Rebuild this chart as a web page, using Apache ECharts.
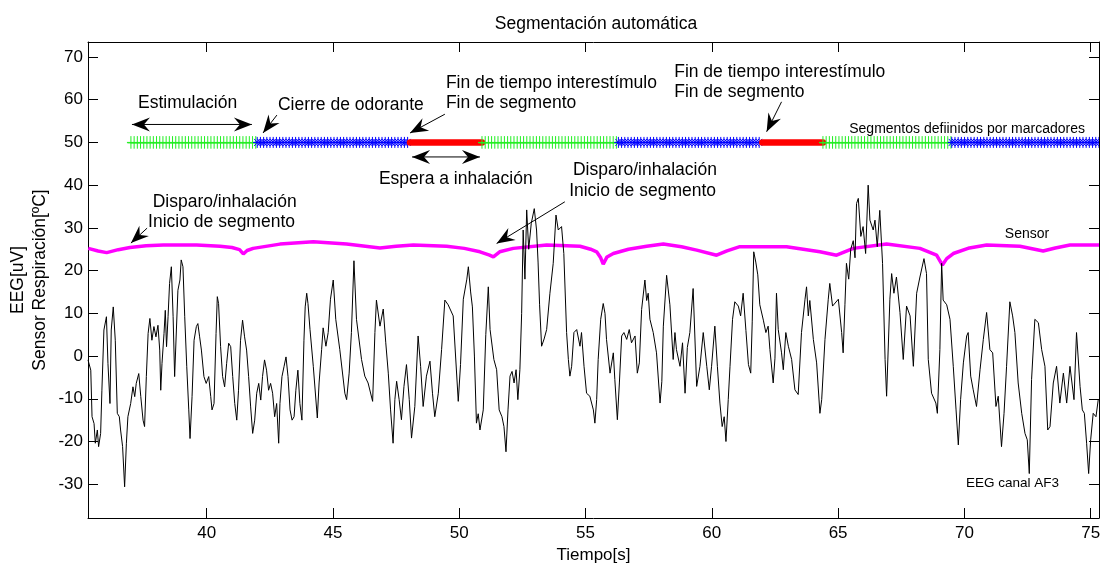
<!DOCTYPE html>
<html><head><meta charset="utf-8">
<script src="https://cdn.jsdelivr.net/npm/echarts@6/dist/echarts.min.js"></script>
<style>html,body{margin:0;padding:0;background:#fff}#c{width:1101px;height:564px}</style>
</head><body><div id="c"></div>
<script>
// ---------- data ----------
const xTicks = [40, 45, 50, 55, 60, 65, 70, 75];
const yTicks = [-30, -20, -10, 0, 10, 20, 30, 40, 50, 60, 70];

const eegT = [35.30,35.41,35.46,35.54,35.59,35.67,35.72,35.80,35.85,35.93,36.03,36.09,36.17,36.22,36.30,36.38,36.46,36.54,36.59,36.67,36.75,36.82,36.88,36.99,37.08,37.15,37.21,37.31,37.39,37.48,37.54,37.61,37.68,37.75,37.83,37.91,37.99,38.07,38.14,38.18,38.23,38.31,38.36,38.41,38.47,38.53,38.60,38.67,38.73,38.80,38.86,38.94,38.99,39.06,39.13,39.21,39.29,39.34,39.42,39.50,39.59,39.65,39.72,39.79,39.89,39.98,40.08,40.16,40.21,40.29,40.37,40.42,40.47,40.55,40.63,40.71,40.79,40.87,40.95,41.03,41.11,41.19,41.26,41.34,41.42,41.50,41.58,41.66,41.74,41.82,41.90,41.98,42.06,42.14,42.21,42.29,42.37,42.45,42.53,42.61,42.69,42.77,42.85,42.90,42.98,43.06,43.14,43.22,43.30,43.38,43.46,43.53,43.61,43.69,43.77,43.85,43.90,43.96,44.01,
 44.09,44.22,44.38,44.45,44.55,44.61,44.72,44.81,44.90,45.01,45.11,45.27,45.47,45.54,45.64,45.73,45.83,45.93,46.13,46.26,46.39,46.57,46.66,46.72,46.86,46.99,47.09,47.19,47.28,47.38,47.45,47.52,47.62,47.71,47.81,47.91,48.02,48.11,48.24,48.37,48.47,48.57,48.70,48.84,48.94,49.03,49.17,49.30,49.43,49.56,49.76,49.96,50.05,50.16,50.30,50.36,50.45,50.52,50.60,50.68,50.75,50.82,50.95,51.05,51.15,51.22,51.37,51.48,51.58,51.69,51.77,51.85,51.93,52.01,52.09,52.17,52.25,52.32,52.40,52.47,52.53,52.60,52.67,52.75,52.85,52.97,53.06,53.12,53.18,53.26,53.36,53.46,53.59,53.72,53.83,53.92,54.05,54.14,54.25,54.32,54.38,54.45,54.54,54.65,54.78,54.84,54.94,55.04,55.17,55.31,55.37,55.44,55.50,55.60,55.70,55.77,55.83,55.97,56.10,56.16,56.26,56.34,56.43,56.52,56.63,56.73,56.82,56.96,57.05,57.13,57.22,57.35,57.42,57.48,57.55,57.68,57.81,57.95,58.02,58.08,58.21,58.34,58.47,58.54,58.60,58.74,58.84,58.94,59.03,59.13,59.26,59.40,59.53,59.66,59.80,59.90,59.99,60.12,60.22,60.32,60.41,60.49,60.56,60.65,60.72,60.82,60.91,61.05,61.14,61.24,61.35,61.45,61.54,61.60,61.66,61.74,61.82,61.90,62.04,62.14,62.23,62.30,62.43,62.50,62.56,62.63,62.76,62.83,62.93,63.03,63.16,63.29,63.42,63.55,63.69,63.75,63.82,63.88,64.02,64.15,64.28,64.35,64.48,64.61,64.67,64.78,65.01,65.14,65.20,65.27,65.33,65.42,65.50,65.60,65.67,65.73,65.80,65.90,65.99,66.09,66.19,66.26,66.39,66.46,66.55,66.65,66.76,66.86,66.92,67.05,67.12,67.21,67.31,67.45,67.58,67.71,67.78,67.85,67.98,68.11,68.24,68.40,68.50,68.57,68.70,68.87,68.93,69.03,69.10,69.16,69.30,69.43,69.56,69.67,69.76,69.85,69.96,70.09,70.15,70.25,70.35,70.48,70.62,70.75,70.88,71.01,71.12,71.25,71.34,71.47,71.57,71.67,71.80,71.91,72.00,72.13,72.27,72.40,72.49,72.57,72.66,72.79,72.93,73.06,73.19,73.30,73.39,73.52,73.65,73.78,73.92,74.05,74.18,74.34,74.44,74.58,74.67,74.75,74.84,74.92,75.00,75.10,75.21,75.30];
const eegV = [-0.9,-3.3,-14.2,-15.8,-20.4,-17.3,-21.2,-18.1,-8,6.1,9.2,-1.7,-11.1,6.1,11.5,3.7,-13.4,-14.2,-17.3,-21.2,-30.6,-20.4,-14.2,-11.1,-7.2,-9.5,-6.4,-4.1,-9.5,-15,-16.5,-4.8,5.3,8.8,3.7,6.9,4.5,7.2,1.4,-8,-1.7,5.3,10.7,2.2,9.2,17,20.9,9.2,-4.8,6.1,15.4,17.8,22.5,20.9,9.2,-2.5,-12.6,-19.3,-9.5,3.7,6.9,7.6,4.5,1.4,-4.8,-6.4,-4.8,-9.5,-12.6,-11.1,5.3,13.9,12.3,2.2,-4.8,-7.2,-1.7,3,2.2,-4.8,-11.1,-15,-8,3.7,8.4,4.5,1.4,-4.8,-11.9,-18.1,-15,-8.7,-6.4,-10.3,-4.8,-0.9,-3.3,-8,-6.4,-8.7,-14.2,-11.1,-20.4,-11.1,-4.8,-2.5,-0.2,-4.8,-12.6,-15,-14.2,-8,-3.3,-11.1,-15,3.7,11.5,14.7,12.3,
 6.2,-2.4,-14.5,-6.3,1.5,6.6,2.3,5.5,13.3,17.8,8.6,1.5,-8.7,-10.2,-4,5.5,22.3,8.6,-0.8,-4.7,-6.3,-10.6,5.5,13.1,7.0,11,3.1,-4,-12.6,-20.4,-10.2,-5.9,-10.2,-14.9,-7.1,-2,-10.2,-19.2,-11.8,4.7,-2.4,-11.8,-4.7,-1.2,-8.7,-14.2,-8.7,1.5,13.1,12,9.4,-10.6,-2,13.3,18,20.9,15,11.5,0,-15.7,-13.5,-17.3,-12.6,5,16.2,6.2,-0.8,-3.2,-12.6,-14.2,-16.5,-22.4,-12.6,-4.7,-3.6,-6.3,-3.2,-10.2,-3.2,10,29.5,18,34.2,25,31,34.5,29.5,22,12,2.3,4,6.2,14.7,21.7,33.0,29.5,30.3,24,5.5,-0.8,-4.7,-2.4,5.5,6.2,2.3,5.5,-2.4,-8.7,-9.4,-12.6,-15.7,-10.2,-0.8,8.6,12.3,10,3.9,-4,0.75,-5.5,-14.9,-6.3,4.7,5.5,3.9,6.2,3.1,4.7,-4,-1.6,10.9,17.8,13,14.7,8.6,5.5,0.75,-11,-6,7,18.9,12,-0.8,5.5,1.5,-2.4,3.1,-8.7,2,5.5,15.8,-7.1,-2.4,5.5,-2.4,-7.9,-2.4,7,-2.4,-11,-16.5,-14.2,-20,-10.2,-2.4,8.6,12.7,11.7,9.4,14.7,6,-2,-4,8,24.4,22,19,12,8.4,5.5,7,1.5,-6.3,-0.5,14.7,6.2,0.75,-3.2,5.5,2.3,-0.8,-7.9,-9,5.5,13.3,16.2,9.4,13,3.9,-1.6,-13.4,-10.2,3.9,13.3,17,11.7,13.3,5.5,0.75,12,21.7,18,25,27,23,35.7,36.9,28,30.3,24,40,31.8,29.5,31.8,25.6,34.1,21.7,-0.8,-9.4,13.3,19.3,14.7,18.5,10.2,-0.8,11.7,11.5,9.4,-2.4,14.7,18.5,22.8,19.3,-0.8,-8.7,-11,-13.4,1.5,21.7,13.1,12,8.6,-2.4,-12.6,-20.8,-10.2,-1.6,4.7,5.5,-4.7,-7.9,-11.8,-3.2,3.9,10.2,1.5,0.75,-11.8,-9.4,-21.2,-13.4,-2.4,12.7,9.4,5.5,-6.3,-13.4,-18.1,-19.6,-27.5,-5.5,8.6,7.8,1.5,-2.4,-17.3,-16.5,-6.3,-2.4,-11,-4,-11,-2.4,-10.2,5.5,-7.1,-12.6,-13.4,-20.4,-27.5,-19.6,-13.4,-14.2,-10.2];

const sensorT = [35.31,35.7,36.04,36.5,36.96,37.6,38.28,39.60,40.53,41.0,41.3,41.45,41.6,41.84,42.90,44.22,45.54,46.86,47.5,48.18,49.50,50.2,50.82,51.2,51.35,51.6,52.14,53.46,54.78,55.2,55.44,55.60,55.70,55.85,56.10,56.7,57.42,58.08,58.8,59.40,60.19,60.6,61.11,62.96,64.28,64.94,65.60,66.92,68.24,68.90,69.13,69.3,69.56,70.2,70.88,72.20,73.12,73.6,74.18,75.33];
const sensorV = [25.2,24.6,24.2,24.9,25.4,25.8,26.0,26.0,25.7,25.4,24.9,23.9,24.7,25.2,26.2,26.75,26.2,25.3,25.7,26.0,25.7,25.2,24.4,23.6,23.2,24.4,25.2,26.0,25.7,25.0,24.4,23.0,21.5,23.2,24.0,25.0,25.7,26.2,25.6,24.8,23.6,24.6,25.6,25.6,24.4,23.6,25.2,26.2,25.2,23.6,21.3,22.8,24.0,25.3,26.0,25.7,24.6,25.3,26.0,26.0];

// marker channel segments (level 50): 0 = estimulación (green +), 1 = interestímulo (blue *), 2 = espera a inhalación (red)
const markerLevel = 50;
const segStart = [37.0, 42.0, 48.05, 50.9, 56.3, 62.0, 64.4, 69.5];
const segEnd   = [42.0, 48.05, 50.9, 56.3, 62.0, 64.4, 69.5, 75.4];
const segKind  = [0, 1, 2, 0, 1, 2, 0, 1];

// arrows (data coords): from -> to, both = double headed
const arrowX1 = [37.04, 42.78, 49.43, 48.13, 62.76, 37.64, 54.18];
const arrowY1 = [54.2, 56.4, 56.6, 46.6, 59.5, 29.94, 36.1];
const arrowX2 = [41.79, 42.23, 48.05, 50.82, 62.17, 37.0, 51.48];
const arrowY2 = [54.2, 52.2, 52.2, 46.6, 52.5, 26.43, 26.35];
const arrowBoth = [1, 0, 0, 1, 0, 0, 0];

// annotation texts (left / middle anchored)
const annotText = ['Estimulación','Cierre de odorante','Fin de tiempo interestímulo','Fin de segmento','Espera a inhalación','Disparo/inhalación','Inicio de segmento','Fin de tiempo interestímulo','Fin de segmento','Disparo/inhalación','Inicio de segmento','Segmentos defiinidos por marcadores','Sensor','EEG canal AF3'];
const annotX = [37.28,42.82,49.47,49.47,46.82,54.50,54.35,58.51,58.51,37.86,37.68,65.44,71.6,70.06];
const annotY = [59.2,58.7,63.9,59.2,41.4,43.5,38.6,66.45,61.8,36.0,31.35,53.1,28.5,-29.7];
const annotSize = [17.5,17.5,17.5,17.5,17.5,17.5,17.5,17.5,17.5,17.5,17.5,14,14,13.5];

// ---------- chart ----------
const FONT = '"Liberation Sans", Arial, Helvetica, sans-serif';
const X_MIN = 35.3, X_MAX = 75.33, Y_MIN = -37.9, Y_MAX = 73.5;

const eegData = eegT.map((t, i) => [t, eegV[i]]);
const sensorData = sensorT.map((t, i) => [t, sensorV[i]]);
const segData = segStart.map((s, i) => [s, segEnd[i], markerLevel, segKind[i]]);
const arrowData = arrowX1.map((x, i) => [x, arrowY1[i], arrowX2[i], arrowY2[i], arrowBoth[i]]);
const textData = annotX.map((x, i) => [x, annotY[i], i]);

function head(tip, from, L, W, N) {
  const dx = tip[0] - from[0], dy = tip[1] - from[1];
  const len = Math.hypot(dx, dy) || 1;
  const ux = dx / len, uy = dy / len, px = -uy, py = ux;
  const bx = tip[0] - ux * L, by = tip[1] - uy * L;
  return [tip, [bx + px * W / 2, by + py * W / 2], [tip[0] - ux * (L - N), tip[1] - uy * (L - N)], [bx - px * W / 2, by - py * W / 2]];
}

const segColors = ['#22ee22', '#0000ff', '#ff0000'];

function renderSeg(params, api) {
  const p1 = api.coord([api.value(0), api.value(2)]);
  const p2 = api.coord([api.value(1), api.value(2)]);
  const kind = api.value(3);
  const y = p1[1];
  if (kind === 2) {
    return { type: 'line', shape: { x1: p1[0], y1: y, x2: p2[0], y2: y },
      style: { stroke: segColors[2], lineWidth: 6.5, lineCap: 'round' } };
  }
  let d = 'M' + (p1[0] - 4) + ' ' + y + 'L' + (p2[0] + 4) + ' ' + y;
  const step = 3.2;
  for (let x = p1[0]; x <= p2[0] + 0.01; x += step) {
    if (kind === 0) {
      d += 'M' + x + ' ' + (y - 6.3) + 'L' + x + ' ' + (y + 6.3);
      d += 'M' + (x - 3.5) + ' ' + (y + 0.5) + 'L' + (x + 3.5) + ' ' + (y + 0.5);
    } else {
      d += 'M' + x + ' ' + (y - 5.5) + 'L' + x + ' ' + (y + 5.5);
      d += 'M' + (x - 3.5) + ' ' + y + 'L' + (x + 3.5) + ' ' + y;
      d += 'M' + (x - 3) + ' ' + (y - 3.5) + 'L' + (x + 3) + ' ' + (y + 3.5);
      d += 'M' + (x - 3) + ' ' + (y + 3.5) + 'L' + (x + 3) + ' ' + (y - 3.5);
    }
  }
  return { type: 'path', shape: { pathData: d }, style: { stroke: segColors[kind], lineWidth: 1, fill: null } };
}

function renderArrow(params, api) {
  const a = api.coord([api.value(0), api.value(1)]);
  const b = api.coord([api.value(2), api.value(3)]);
  const children = [
    { type: 'line', shape: { x1: a[0], y1: a[1], x2: b[0], y2: b[1] }, style: { stroke: '#000', lineWidth: 1 } },
    { type: 'polygon', shape: { points: head(b, a, 18, 14, 6) }, style: { fill: '#000' } }
  ];
  if (api.value(4) === 1) children.push({ type: 'polygon', shape: { points: head(a, b, 18, 14, 6) }, style: { fill: '#000' } });
  return { type: 'group', children };
}

function renderText(params, api) {
  const p = api.coord([api.value(0), api.value(1)]);
  const i = api.value(2);
  return { type: 'text', x: p[0], y: p[1],
    style: { text: annotText[i], fill: '#000', font: annotSize[i] + 'px ' + FONT, align: 'left', verticalAlign: 'middle' } };
}

const axisCommon = {
  type: 'value', min: X_MIN, max: X_MAX,
  axisLine: { show: true, onZero: false, lineStyle: { color: '#000', width: 1 } },
  splitLine: { show: false }
};

const chart = echarts.init(document.getElementById('c'), null, { renderer: 'canvas' });
chart.setOption({
  animation: false,
  backgroundColor: '#fff',
  textStyle: { fontFamily: FONT },
  title: { text: 'Segmentación automática', left: 591, textAlign: 'center', top: 10,
    textStyle: { fontSize: 17.5, fontWeight: 'normal', color: '#000', fontFamily: FONT } },
  grid: { left: 88, right: 2, top: 42, bottom: 46, containLabel: false, outerBoundsMode: 'none' },
  xAxis: [
    Object.assign({}, axisCommon, { position: 'bottom',
      axisTick: { show: true, inside: true, length: 10, customValues: xTicks, lineStyle: { color: '#000' } },
      axisLabel: { show: true, customValues: xTicks, color: '#000', fontSize: 17, fontFamily: FONT, margin: 7 },
      name: 'Tiempo[s]', nameLocation: 'middle', nameGap: 29, nameMoveOverlap: false,
      nameTextStyle: { fontSize: 17, color: '#000', fontFamily: FONT } }),
    Object.assign({}, axisCommon, { position: 'top',
      axisTick: { show: true, inside: true, length: 10, customValues: xTicks, lineStyle: { color: '#000' } },
      axisLabel: { show: false } })
  ],
  yAxis: [
    { type: 'value', min: Y_MIN, max: Y_MAX, position: 'left',
      axisLine: { show: true, onZero: false, lineStyle: { color: '#000' } },
      axisTick: { show: true, inside: true, length: 10, customValues: yTicks, lineStyle: { color: '#000' } },
      axisLabel: { show: true, customValues: yTicks, color: '#000', fontSize: 17, fontFamily: FONT, margin: 5 },
      splitLine: { show: false },
      name: 'EEG[uV]\nSensor Respiración[ºC]', nameLocation: 'middle', nameGap: 37, nameRotate: 90, nameMoveOverlap: false,
      nameTextStyle: { fontSize: 17.5, color: '#000', fontFamily: FONT, lineHeight: 22, align: 'center' } },
    { type: 'value', min: Y_MIN, max: Y_MAX, position: 'right',
      axisLine: { show: true, onZero: false, lineStyle: { color: '#000' } },
      axisTick: { show: true, inside: true, length: 10, customValues: yTicks, lineStyle: { color: '#000' } },
      axisLabel: { show: false }, splitLine: { show: false } }
  ],
  series: [
    { type: 'line', name: 'Sensor', data: sensorData, showSymbol: false, symbol: 'none',
      lineStyle: { color: '#ff00ff', width: 3.5 }, z: 2, silent: true },
    { type: 'line', name: 'EEG canal AF3', data: eegData, showSymbol: false, symbol: 'none',
      lineStyle: { color: '#000', width: 1 }, z: 3, silent: true },
    { type: 'custom', name: 'Segmentos', data: segData, renderItem: renderSeg, clip: true,
      encode: { x: [0, 1], y: 2 }, z: 4, silent: true },
    { type: 'custom', name: 'Flechas', data: arrowData, renderItem: renderArrow, clip: false,
      encode: { x: [0, 2], y: [1, 3] }, z: 5, silent: true },
    { type: 'custom', name: 'Textos', data: textData, renderItem: renderText, clip: false,
      encode: { x: 0, y: 1 }, z: 6, silent: true }
  ]
});
</script></body></html>
